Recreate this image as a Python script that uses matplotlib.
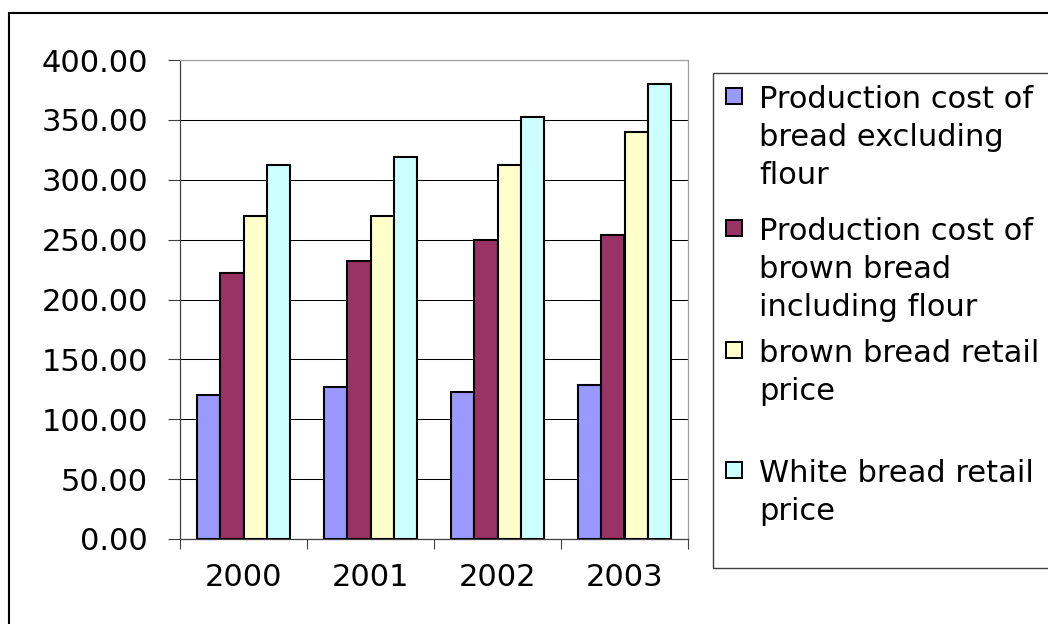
import matplotlib
matplotlib.use("Agg")
import matplotlib.pyplot as plt
import numpy as np
from matplotlib.patches import Rectangle

years = ["2000", "2001", "2002", "2003"]
series_names = [
    "Production cost of bread excluding flour",
    "Production cost of brown bread including flour",
    "brown bread retail price",
    "White bread retail price",
]
legend_lines = [
    ["Production cost of", "bread excluding", "flour"],
    ["Production cost of", "brown bread", "including flour"],
    ["brown bread retail", "price"],
    ["White bread retail", "price"],
]
cost_excl_flour = [120, 127, 123, 129]
cost_brown_incl_flour = [222, 232, 250, 254]
brown_retail = [270, 270, 312, 340]
white_retail = [312, 319, 352, 380]
colors = ["#9999FF", "#993366", "#FFFFCC", "#CCFFFF"]
yticks = [0, 50, 100, 150, 200, 250, 300, 350, 400]

W, H = 1048, 624
plt.rcParams['font.family'] = ['DejaVu Sans']
fig = plt.figure(figsize=(W / 100, H / 100), dpi=100)

def fx(x):
    return x / W

def fy(y):
    return 1 - y / H

# axes placement (pixels)
L, R, T, B = 180, 688, 60, 539
ax = fig.add_axes([fx(L), fy(B), fx(R) - fx(L), fy(T) - fy(B)])

data = [cost_excl_flour, cost_brown_incl_flour, brown_retail, white_retail]
x = np.arange(len(years))
bw = 0.1835
for i, (vals, c) in enumerate(zip(data, colors)):
    ax.bar(x + (i - 1.5) * bw, vals, width=bw, color=c, edgecolor="black",
           linewidth=1.5, zorder=3, label=series_names[i])

ax.set_xlim(-0.5, len(years) - 0.5)
ax.set_ylim(0, 400)
ax.set_yticks(yticks)
ax.set_yticklabels([f"{v:.2f}" for v in yticks])
ax.yaxis.grid(True, color="black", linewidth=0.75, zorder=0)
ax.set_axisbelow(True)

ax.set_xticks(x)
ax.set_xticklabels(years)
ax.set_xticks(np.arange(len(years) + 1) - 0.5, minor=True)
ax.tick_params(axis="x", which="major", length=0, pad=17, labelsize=22)
ax.tick_params(axis="x", which="minor", length=7.2, width=0.8, color="#404040", direction="out")
ax.tick_params(axis="y", which="major", length=8.6, width=0.8, color="#404040",
               direction="out", pad=14.4, labelsize=22)

for s in ["left", "bottom"]:
    ax.spines[s].set_color("#404040")
    ax.spines[s].set_linewidth(0.9)
for s in ["top", "right"]:
    ax.spines[s].set_color("#A0A0A0")
    ax.spines[s].set_linewidth(0.9)

# outer chart frame
fig.patches.append(Rectangle((fx(9), fy(640)), fx(1070) - fx(9), fy(13) - fy(640),
                             transform=fig.transFigure, fill=False,
                             edgecolor="black", linewidth=1.5))

# legend box
lx0, ly0, lx1, ly1 = 713, 73, 1070, 568
fig.patches.append(Rectangle((fx(lx0), fy(ly1)), fx(lx1) - fx(lx0), fy(ly0) - fy(ly1),
                             transform=fig.transFigure, fill=False,
                             edgecolor="#404040", linewidth=1.0))
entry_y = [96, 228, 350, 470]
line_h = 38
for lines, c, yc in zip(legend_lines, colors, entry_y):
    fig.patches.append(Rectangle((fx(726), fy(yc + 8)), fx(16), 16 / H,
                                 transform=fig.transFigure, facecolor=c,
                                 edgecolor="black", linewidth=1.4))
    for k, t in enumerate(lines):
        fig.text(fx(759), fy(yc + 12 + k * line_h), t, fontsize=22,
                 va="baseline", ha="left")

fig.savefig("out.png", dpi=100)
